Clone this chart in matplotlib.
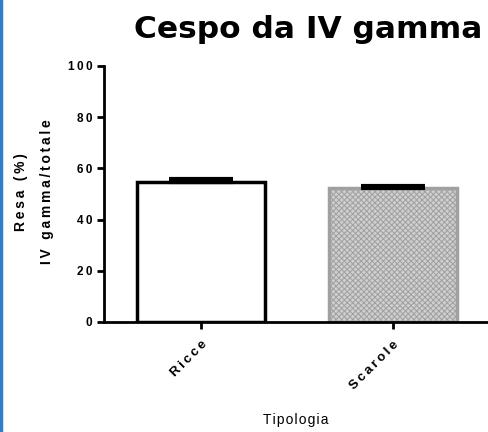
import matplotlib
matplotlib.use("Agg")
import matplotlib.pyplot as plt

categories = ["Ricce", "Scarole"]
values = [54.7, 52.3]
errors = [1.0, 0.9]
yticks = [0, 20, 40, 60, 80, 100]
ylabel_lines = ["Resa (%)", "IV gamma/totale"]
xlabel = "Tipologia"
title = "Cespo da IV gamma"

plt.rcParams['font.family'] = ['Liberation Sans', 'DejaVu Sans']
plt.rcParams['hatch.linewidth'] = 0.7

def spaced(s, sp='\u2009'):
    return sp.join(list(s))

fig = plt.figure(figsize=(4.89, 4.32), dpi=100)
ax = fig.add_axes([104/489, 1-322/432, 1-104/489, (322-66)/432])

x = list(range(len(categories)))
ax.bar(x[0], values[0], width=0.667, facecolor='white', edgecolor='black', linewidth=2.5, zorder=2)
ax.bar(x[1], values[1], width=0.667, facecolor='#cfcfcf', edgecolor='#a0a0a0', hatch='xxxxxx', linewidth=2.5, zorder=2)
ax.errorbar(x, values, yerr=[[0, 0], errors], fmt='none', ecolor='black', elinewidth=2.5,
            capsize=23, capthick=3, zorder=3)

ax.set_xlim(-0.505, 1.5)
ax.set_ylim(0, 100)
ax.set_yticks(yticks)
ax.set_yticklabels([spaced(str(v)) for v in yticks], fontsize=8.5, fontweight='bold')
ax.set_xticks(x)
ax.set_xticklabels([spaced(c) for c in categories], fontsize=9.5, fontweight='bold', rotation=45,
                   ha='right', rotation_mode='anchor')
for s in ['top', 'right']:
    ax.spines[s].set_visible(False)
for s in ['left', 'bottom']:
    ax.spines[s].set_linewidth(2)
ax.tick_params(axis='both', width=2, length=5)
ax.tick_params(axis='x', pad=7)

fig.text(34/489, 1-192/432, "\n".join(spaced(l) for l in ylabel_lines), fontsize=10,
         fontweight='bold', rotation=90, ha='center', va='center', linespacing=2.0,
         multialignment='center')
fig.text(296/489, 1-420/432, spaced(xlabel, '\u200a'), fontsize=10, ha='center', va='center')

fig.text(308/489, 1-30/432, title, fontsize=22.5, fontweight='bold',
         ha='center', va='center', family='DejaVu Sans')
fig.add_artist(plt.Line2D([0.002, 0.002], [0, 1], color='#2f7fc8', linewidth=2.5, transform=fig.transFigure))

fig.savefig("out.png", dpi=100)
